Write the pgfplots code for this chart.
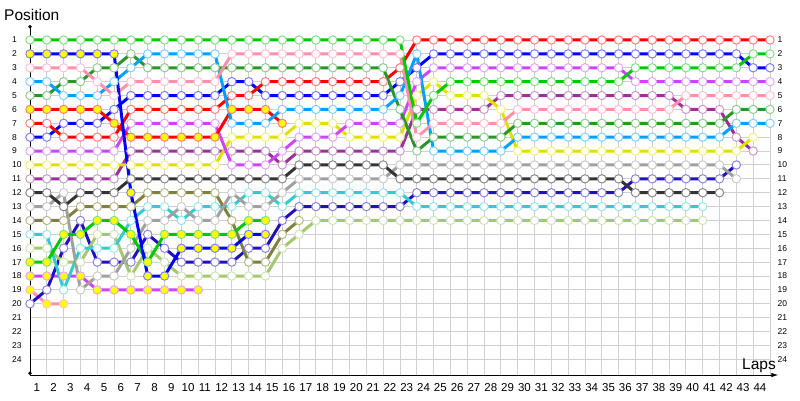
\documentclass[border=0pt]{standalone}
\usepackage{fontspec}
\setmainfont{Liberation Sans}
\usepackage{pgfplots}
\pgfplotsset{compat=1.18}
\usetikzlibrary{arrows.meta}
\definecolor{cG}{HTML}{00C800}\definecolor{rG}{HTML}{80E080}
\definecolor{cB}{HTML}{0000FF}\definecolor{rB}{HTML}{7F7FFF}
\definecolor{cPK}{HTML}{FF8FAB}\definecolor{rPK}{HTML}{FFC2D2}
\definecolor{cLB}{HTML}{00A0FF}\definecolor{rLB}{HTML}{80D0FF}
\definecolor{cDG}{HTML}{289628}\definecolor{rDG}{HTML}{90CC90}
\definecolor{cR}{HTML}{FF0000}\definecolor{rR}{HTML}{FF8080}
\definecolor{cV}{HTML}{CC44FF}\definecolor{rV}{HTML}{E4A4FF}
\definecolor{cY}{HTML}{E0E000}\definecolor{rY}{HTML}{F0F080}
\definecolor{cPU}{HTML}{993399}\definecolor{rPU}{HTML}{CC99CC}
\definecolor{cDK}{HTML}{333333}\definecolor{rDK}{HTML}{8A8A8A}
\definecolor{cGR}{HTML}{A0A0A0}\definecolor{rGR}{HTML}{CCCCCC}
\definecolor{cOL}{HTML}{808040}\definecolor{rOL}{HTML}{B8B888}
\definecolor{cCY}{HTML}{33CCCC}\definecolor{rCY}{HTML}{99E6E6}
\definecolor{cLO}{HTML}{A3C96E}\definecolor{rLO}{HTML}{D1E4B6}
\definecolor{cNV}{HTML}{2010C0}\definecolor{rNV}{HTML}{8C84E0}
\definecolor{cGrid}{HTML}{D0D0D0}
\definecolor{cYel}{HTML}{FFFF00}
\pgfplotsset{
  drv/.style 2 args={color=#1, line width=3pt, mark=*, mark size=4.2pt,
    mark options={fill=white, draw=#2, line width=1pt, solid}},
  drvy/.style 2 args={color=#1, line width=3pt, mark=*, mark size=4.2pt,
    mark options={fill=cYel, draw=#2, line width=1pt, solid}},
}
\begin{document}
\begin{tikzpicture}[x=1pt,y=1pt]
% grid
\begin{axis}[at={(30pt,25pt)}, anchor=south west, scale only axis,
  width=740pt, height=335pt, xmin=0, xmax=44, ymin=1, ymax=25.13, y dir=reverse,
  xtick={0,...,44}, ytick={1,...,24}, xticklabels={},
  yticklabel pos=right,
  yticklabel style={anchor=west, inner sep=0pt, xshift=7.5pt, font=\fontsize{8.5}{9}\selectfont},
  /pgf/number format/assume math mode=true,
  grid=major, grid style={line width=1pt, draw=cGrid},
  axis line style={draw=none}, major tick length=0pt]
\end{axis}
% data
\begin{axis}[at={(30pt,25pt)}, anchor=south west, scale only axis,
  width=748.4pt, height=350pt, xmin=0, xmax=44.5, ymin=-0.08, ymax=25.13, y dir=reverse,
  axis line style={draw=none}, major tick length=0pt,
  xtick={0.4,1.4,...,43.4},
  xticklabel={\pgfmathparse{int(round(\tick+0.6))}\pgfmathresult},
  xticklabel style={anchor=north, inner sep=0pt, yshift=-8.5pt, font=\fontsize{11.5}{12}\selectfont},
  ytick={1,...,24},
  yticklabel style={anchor=west, inner sep=0pt, xshift=-18pt, font=\fontsize{8.5}{9}\selectfont},
  /pgf/number format/assume math mode=true,
  clip=false, set layers, mark layer=axis foreground]
\draw[line width=1pt, {Circle[length=3.5pt]}-{Circle[length=3.5pt]}] (axis cs:0,-0.08) -- (axis cs:0,25.13);
\draw[line width=1pt, -{Latex[length=7pt,width=4.5pt]}] (axis cs:0,25.13) -- (axis cs:44.5,25.13);
% pink-yellow
\addplot[drvy={cPK}{rPK}] coordinates {(0,19)(1,20)(2,20)};
% violet-yellow
\addplot[drvy={cV}{rV}] coordinates {(0,18)(1,18)(2,18)(3,18)(4,19)(5,19)(6,19)(7,19)(8,19)(9,19)(10,19)};
% navy
\addplot[drv={cNV}{rNV}] coordinates {(0,20)(1,19)(2,16)(3,14)(4,17)(5,17)(6,17)(7,15)(8,16)(9,17)(10,17)(11,17)(12,17)(13,16)(14,16)(15,14)(16,13)(17,13)(18,13)(19,13)(20,13)(21,13)(22,13)(23,12)(24,12)(25,12)(26,12)(27,12)(28,12)(29,12)(30,12)(31,12)(32,12)(33,12)(34,12)(35,12)(36,11)(37,11)(38,11)(39,11)(40,11)(41,11)(42,10)};
% light olive
\addplot[drv={cLO}{rLO}] coordinates {(0,16)(1,16)(2,17)(3,17)(4,15)(5,15)(6,18)(7,16)(8,17)(9,18)(10,18)(11,18)(12,18)(13,18)(14,18)(15,16)(16,15)(17,14)(18,14)(19,14)(20,14)(21,14)(22,14)(23,14)(24,14)(25,14)(26,14)(27,14)(28,14)(29,14)(30,14)(31,14)(32,14)(33,14)(34,14)(35,14)(36,14)(37,14)(38,14)(39,14)(40,14)};
% cyan
\addplot[drv={cCY}{rCY}] coordinates {(0,15)(1,15)(2,19)(3,16)(4,16)(5,16)(6,14)(7,13)(8,13)(9,14)(10,13)(11,13)(12,13)(13,12)(14,12)(15,13)(16,12)(17,12)(18,12)(19,12)(20,12)(21,12)(22,12)(23,13)(24,13)(25,13)(26,13)(27,13)(28,13)(29,13)(30,13)(31,13)(32,13)(33,13)(34,13)(35,13)(36,13)(37,13)(38,13)(39,13)(40,13)};
% olive
\addplot[drv={cOL}{rOL}] coordinates {(0,14)(1,14)(2,14)(3,13)(4,13)(5,13)(6,13)(7,12)(8,12)(9,12)(10,12)(11,12)(12,14)(13,17)(14,17)(15,15)(16,14)};
% light gray
\addplot[drv={cGR}{rGR}] coordinates {(0,13)(1,13)(2,12)(3,19)(4,18)(5,18)(6,16)(7,14)(8,14)(9,13)(10,14)(11,14)(12,12)(13,13)(14,13)(15,12)(16,11)(17,11)(18,11)(19,11)(20,11)(21,11)(22,10)(23,10)(24,10)(25,10)(26,10)(27,10)(28,10)(29,10)(30,10)(31,10)(32,10)(33,10)(34,10)(35,10)(36,10)(37,10)(38,10)(39,10)(40,10)(41,10)(42,11)};
% dark gray
\addplot[drv={cDK}{rDK}] coordinates {(0,12)(1,12)(2,13)(3,12)(4,12)(5,12)(6,11)(7,11)(8,11)(9,11)(10,11)(11,11)(12,11)(13,11)(14,11)(15,11)(16,10)(17,10)(18,10)(19,10)(20,10)(21,10)(22,11)(23,11)(24,11)(25,11)(26,11)(27,11)(28,11)(29,11)(30,11)(31,11)(32,11)(33,11)(34,11)(35,11)(36,12)(37,12)(38,12)(39,12)(40,12)(41,12)};
% green-yellow
\addplot[drvy={cG}{rG}] coordinates {(0,17)(1,17)(2,15)(3,15)(4,14)(5,14)(6,15)(7,17)(8,15)(9,15)(10,15)(11,15)(12,15)(13,14)(14,14)};
% purple
\addplot[drv={cPU}{rPU}] coordinates {(0,11)(1,11)(2,11)(3,11)(4,11)(5,11)(6,9)(7,9)(8,9)(9,9)(10,9)(11,9)(12,9)(13,9)(14,9)(15,10)(16,9)(17,9)(18,9)(19,9)(20,9)(21,9)(22,9)(23,6)(24,6)(25,6)(26,6)(27,6)(28,5)(29,5)(30,5)(31,5)(32,5)(33,5)(34,5)(35,5)(36,5)(37,5)(38,5)(39,6)(40,6)(41,6)(42,8)(43,9)};
% yellow
\addplot[drv={cY}{rY}] coordinates {(0,10)(1,10)(2,10)(3,10)(4,10)(5,10)(6,10)(7,10)(8,10)(9,10)(10,10)(11,10)(12,8)(13,8)(14,8)(15,8)(16,7)(17,7)(18,7)(19,8)(20,8)(21,8)(22,8)(23,5)(24,4)(25,5)(26,5)(27,5)(28,6)(29,9)(30,9)(31,9)(32,9)(33,9)(34,9)(35,9)(36,9)(37,9)(38,9)(39,9)(40,9)(41,9)(42,9)(43,8)};
% violet
\addplot[drv={cV}{rV}] coordinates {(0,9)(1,9)(2,9)(3,9)(4,9)(5,9)(6,7)(7,7)(8,7)(9,7)(10,7)(11,7)(12,10)(13,10)(14,10)(15,9)(16,8)(17,8)(18,8)(19,7)(20,7)(21,7)(22,7)(23,4)(24,3)(25,3)(26,3)(27,3)(28,3)(29,3)(30,3)(31,3)(32,3)(33,3)(34,3)(35,3)(36,4)(37,4)(38,4)(39,4)(40,4)(41,4)(42,4)(43,4)(44,4)};
% blue (white marks)
\addplot[drv={cB}{rB}] coordinates {(0,8)(1,8)(2,7)(3,7)(4,7)(5,6)(6,5)(7,5)(8,5)(9,5)(10,5)(11,5)(12,4)(13,4)(14,5)(15,5)(16,5)(17,5)(18,5)(19,5)(20,5)(21,5)(22,4)(23,3)(24,2)(25,2)(26,2)(27,2)(28,2)(29,2)(30,2)(31,2)(32,2)(33,2)(34,2)(35,2)(36,2)(37,2)(38,2)(39,2)(40,2)(41,2)(42,2)(43,3)(44,3)};
% red (white marks)
\addplot[drv={cR}{rR}] coordinates {(0,7)(1,7)(2,8)(3,8)(4,8)(5,8)(6,6)(7,6)(8,6)(9,6)(10,6)(11,6)(12,5)(13,5)(14,4)(15,4)(16,4)(17,4)(18,4)(19,4)(20,4)(21,4)(22,3)(23,1)(24,1)(25,1)(26,1)(27,1)(28,1)(29,1)(30,1)(31,1)(32,1)(33,1)(34,1)(35,1)(36,1)(37,1)(38,1)(39,1)(40,1)(41,1)(42,1)(43,1)(44,1)};
% red-yellow
\addplot[drvy={cR}{rR}] coordinates {(0,6)(1,6)(2,6)(3,6)(4,6)(5,7)(6,8)(7,8)(8,8)(9,8)(10,8)(11,8)(12,6)(13,6)(14,6)(15,7)};
% dark green
\addplot[drv={cDG}{rDG}] coordinates {(0,5)(1,5)(2,4)(3,4)(4,3)(5,3)(6,2)(7,3)(8,3)(9,3)(10,3)(11,3)(12,3)(13,3)(14,3)(15,3)(16,3)(17,3)(18,3)(19,3)(20,3)(21,3)(22,6)(23,9)(24,8)(25,8)(26,8)(27,8)(28,8)(29,7)(30,7)(31,7)(32,7)(33,7)(34,7)(35,7)(36,7)(37,7)(38,7)(39,7)(40,7)(41,7)(42,6)(43,6)(44,6)};
% light blue
\addplot[drv={cLB}{rLB}] coordinates {(0,4)(1,4)(2,5)(3,5)(4,5)(5,4)(6,3)(7,2)(8,2)(9,2)(10,2)(11,2)(12,7)(13,7)(14,7)(15,6)(16,6)(17,6)(18,6)(19,6)(20,6)(21,6)(22,5)(23,2)(24,9)(25,9)(26,9)(27,9)(28,9)(29,8)(30,8)(31,8)(32,8)(33,8)(34,8)(35,8)(36,8)(37,8)(38,8)(39,8)(40,8)(41,8)(42,7)(43,7)(44,7)};
% pink
\addplot[drv={cPK}{rPK}] coordinates {(0,3)(1,3)(2,3)(3,3)(4,4)(5,5)(6,4)(7,4)(8,4)(9,4)(10,4)(11,4)(12,2)(13,2)(14,2)(15,2)(16,2)(17,2)(18,2)(19,2)(20,2)(21,2)(22,2)(23,8)(24,7)(25,7)(26,7)(27,7)(28,7)(29,6)(30,6)(31,6)(32,6)(33,6)(34,6)(35,6)(36,6)(37,6)(38,6)(39,5)(40,5)(41,5)(42,5)(43,5)(44,5)};
% blue-yellow
\addplot[drvy={cB}{rB}] coordinates {(0,2)(1,2)(2,2)(3,2)(4,2)(5,2)(6,12)(7,18)(8,18)(9,16)(10,16)(11,16)(12,16)(13,15)(14,15)};
% green leader
\addplot[drv={cG}{rG}] coordinates {(0,1)(1,1)(2,1)(3,1)(4,1)(5,1)(6,1)(7,1)(8,1)(9,1)(10,1)(11,1)(12,1)(13,1)(14,1)(15,1)(16,1)(17,1)(18,1)(19,1)(20,1)(21,1)(22,1)(23,7)(24,5)(25,4)(26,4)(27,4)(28,4)(29,4)(30,4)(31,4)(32,4)(33,4)(34,4)(35,4)(36,3)(37,3)(38,3)(39,3)(40,3)(41,3)(42,3)(43,2)(44,2)};
\end{axis}
\node[anchor=base west, inner sep=0pt, font=\fontsize{15.5}{16}\selectfont] at (4pt,379.3pt) {Position};
\node[anchor=base east, inner sep=0pt, font=\fontsize{15.5}{16}\selectfont] at (776pt,31pt) {Laps};
\pgfresetboundingbox
\useasboundingbox (0,0) rectangle (800pt,400pt);
\end{tikzpicture}
\end{document}
